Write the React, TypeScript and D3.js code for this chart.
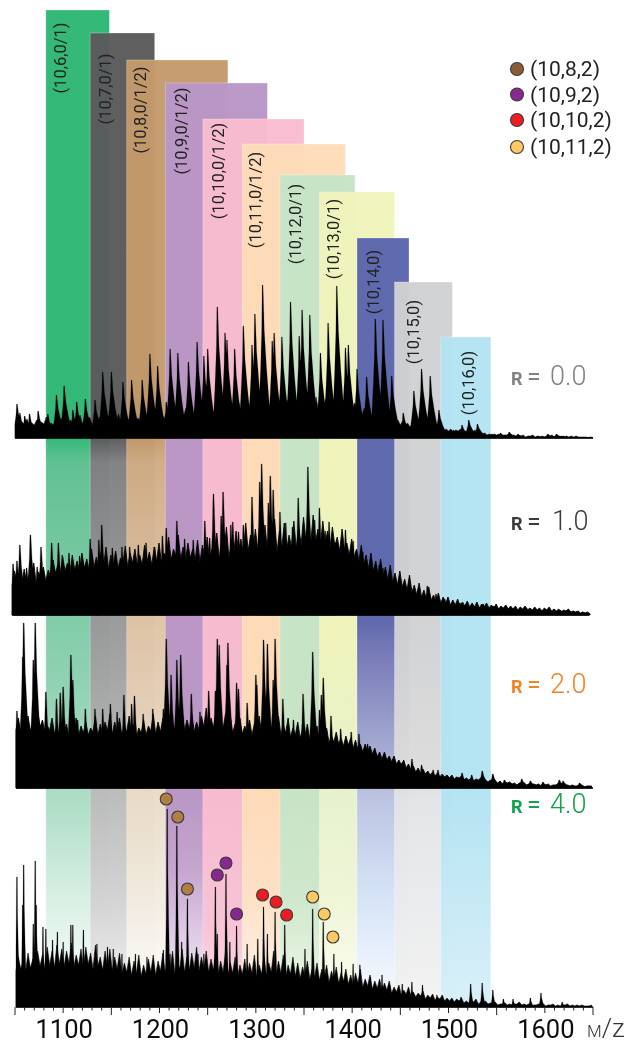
import React from "react";
import * as d3 from "d3";

// ---------- data ----------
const bandLabels = ["(10,6,0/1)","(10,7,0/1)","(10,8,0/1/2)","(10,9,0/1/2)","(10,10,0/1/2)","(10,11,0/1/2)","(10,12,0/1)","(10,13,0/1)","(10,14,0)","(10,15,0)","(10,16,0)"];
const bandStart = [1082,1128,1166,1206,1245,1286,1325,1366,1405,1444,1492];
const bandEnd = [1148,1195,1271,1312,1350,1393,1403,1444,1459,1504,1544];
const bandHeight = [428,405,378,355,319,294,263,246,200,156,101];

const r0Mz = [1052,1055,1060,1065,1074,1084,1093,1101,1110,1114,1123,1133,1141,1150,1162,1171,1182,1190,1198,1207,1211,1219,1230,1239,1246,1250,1260,1268,1270,1278,1287,1296,1299,1307,1317,1319,1327,1336,1345,1348,1356,1367,1375,1384,1393,1396,1405,1415,1424,1432,1441,1453,1464,1472,1481,1490,1505,1514,1521,1530,1545,1554,1563,1572,1593,1603,1612,1619];
const r0Int = [34,25,22,24,27,24,43,52,28,36,39,38,66,66,56,58,58,84,72,36,89,85,76,96,82,89,131,105,98,89,112,93,124,153,97,105,101,136,102,128,123,85,115,152,90,93,69,61,119,118,62,25,47,69,62,28,8,13,18,14,4,5,6,4,2,4,4,2];
const r0Floor = [14,12,13,11,13,12,14,11,13,14,15,13,14,16,14,15,13,15,14,16,15,17,15,14,16,15,17,16,15,18,17,19,18,20,19,22,20,21,23,22,24,22,24,21,25,23,26,24,25,27,26,28,25,27,29,26,28,30,27,29,31,28,30,27,29,26,28,25,27,24,26,23,22,24,20,19,18,17,15,14,13,12,11,12,10,9,10,8,9,7,7,6,7,5,5,6,4,4,3,3,3,2,3,2,2,2,1,2,1,1,1,2,1,1,1,1,1,1,1,0.5,0.5];
const r0Fine = [20,16,19,15,18,16,21,15,18,20,22,18,20,23,19,21,18,21,20,23,21,24,20,19,22,20,24,22,21,26,24,27,25,28,26,30,27,29,32,30,33,30,33,29,34,31,35,32,34,37,35,38,34,37,39,35,38,41,36,39,42,38,41,36,39,35,38,34,37,33,35,31,30,33,27,25,24,22,20,18,17,15,14,15,13,11,12,10,11,9,9,8,9,7,7,8,5,5,4,4,4,3,4,3,3,3,2,3,2,2,2,3,2,2,2,2,2,1,1,1];

const r1Mz = [1048,1052,1055,1062,1066,1073,1077,1088,1095,1099,1106,1117,1128,1137,1140,1151,1161,1169,1178,1186,1195,1203,1207,1218,1226,1235,1247,1252,1256,1264,1266,1274,1276,1282,1287,1296,1304,1306,1313,1315,1318,1325,1331,1338,1344,1354,1361,1366,1372,1376,1383,1393,1401,1411,1420,1428,1432,1439,1448,1460,1468,1478,1487,1496,1512,1520,1536,1547,1564,1581,1598,1616,1633];
const r1Int = [51,54,70,47,80,48,68,72,72,60,62,59,76,75,90,67,68,68,70,72,68,79,87,94,76,75,94,77,121,99,123,90,93,83,90,118,133,151,112,139,125,103,92,88,117,148,95,107,84,93,72,85,74,63,51,50,47,39,32,31,24,29,21,16,12,11,11,9,7,7,5,5,2];
const r1Floor = [30,33,29,32,35,31,36,34,38,42,40,44,41,45,43,47,44,48,46,49,46,50,47,51,48,52,49,50,53,50,54,52,58,55,59,56,54,57,55,53,57,54,60,56,62,58,61,63,60,64,62,65,61,64,66,63,67,65,68,66,70,74,71,73,69,72,67,69,64,66,60,58,54,50,46,44,40,38,35,33,30,28,25,23,20,18,16,15,13,12,11,10,10,9,9,8,8,7,8,7,7,6,7,6,6,5,6,5,5,5,4,5,4,4,3,4,3,3,2,2,1];
const r1Fine = [44,38,46,40,52,43,48,45,55,50,58,52,60,54,62,56,66,58,63,68,60,64,57,69,62,66,60,70,63,68,72,62,78,66,80,68,72,66,75,70,78,66,82,72,88,70,84,76,92,80,86,78,90,82,96,84,92,80,94,88,98,90,100,86,94,84,88,78,86,72,76,66,70,60,62,54,56,48,50,42,44,36,40,30,32,25,28,20,22,18,18,15,16,13,14,12,13,11,12,10,11,9,10,9,9,8,9,7,8,7,7,8,6,6,5,6,4,4,3,3];

const r2Mz = [1052,1058,1059,1069,1071,1082,1093,1097,1100,1108,1110,1115,1123,1133,1141,1149,1156,1163,1171,1174,1183,1193,1204,1207,1212,1218,1222,1233,1242,1251,1258,1260,1262,1270,1271,1280,1282,1291,1300,1301,1308,1312,1318,1320,1328,1339,1349,1359,1366,1368,1370,1378,1388,1399,1407,1416,1425,1433,1442,1451,1462,1472,1484,1489,1514,1524,1535,1546,1558,1576,1585,1598,1615,1619,1636];
const r2Int = [77,131,165,128,165,96,89,95,101,133,108,68,79,79,79,84,76,93,84,92,74,79,79,149,113,128,133,94,76,97,97,149,143,123,145,105,99,85,113,103,148,144,108,149,89,68,94,136,78,93,110,72,59,56,54,44,34,33,29,25,29,23,18,18,15,13,17,14,8,9,7,6,8,7,5];
const r2Floor = [58,55,60,57,59,61,56,58,54,51,53,50,54,52,55,53,56,52,54,57,53,55,52,56,54,51,55,53,57,54,56,59,55,58,60,57,59,56,58,61,57,60,56,59,58,55,57,54,56,53,57,54,58,55,57,53,55,51,53,50,52,48,50,47,49,45,46,44,42,43,40,38,36,37,34,31,29,28,26,24,23,20,18,16,15,14,13,12,11,11,10,9,10,8,8,7,8,6,6,5,5,4,5,4,3,4,3,3,3,2,3,2,3,2,2,2,2,2,1,2];
const r2Fine = [70,64,72,66,78,68,62,70,60,66,64,58,70,62,66,60,72,64,66,74,66,70,62,72,64,60,68,62,74,66,70,76,66,74,78,68,74,66,72,80,70,76,66,74,72,64,70,62,68,64,72,64,76,66,72,62,70,60,66,58,64,56,62,54,60,52,56,50,52,50,48,44,44,42,40,36,36,32,32,28,28,24,22,20,19,17,16,15,14,13,13,11,12,10,10,9,10,8,8,7,7,6,6,5,5,5,4,4,4,3,4,3,4,3,3,3,2,3,2,2];

const r4Mz = [1052,1058,1059,1069,1071,1072,1079,1082,1089,1094,1100,1108,1110,1121,1135,1146,1152,1161,1175,1187,1204,1208,1211,1218,1223,1229,1240,1246,1258,1260,1269,1273,1280,1291,1302,1308,1312,1320,1330,1351,1359,1370,1381,1389,1401,1408,1419,1431,1439,1452,1462,1473,1488,1513,1523,1535,1546,1557,1567,1585,1596,1618];
const r4Int = [130,102,142,83,146,102,80,78,67,75,65,82,82,77,63,60,58,53,53,50,57,198,53,181,65,108,53,53,120,73,133,65,81,63,68,100,73,95,82,58,98,85,53,45,43,42,30,32,22,23,25,22,12,10,23,24,17,8,8,9,14,5];
const r4Floor = [36,38,35,39,37,41,38,42,40,43,41,44,40,42,39,43,38,41,37,40,36,38,33,35,32,34,31,33,35,32,36,34,37,33,38,35,37,39,36,38,35,37,33,35,32,34,30,33,31,34,30,33,31,35,32,34,30,33,31,29,31,28,30,27,29,25,27,24,26,23,22,24,20,21,18,19,16,17,14,15,12,13,11,10,11,8,9,7,8,6,6,5,6,4,4,5,3,4,3,3,2,3,2,2,3,2,2,1,2,2,1,2,1,1,2,1,1,1,1,1];
const r4Fine = [50,46,54,48,56,52,60,56,62,58,56,64,52,58,60,54,62,50,56,58,50,54,44,50,46,52,42,48,52,46,54,48,56,46,58,50,54,60,50,56,48,56,46,54,44,50,42,48,44,52,42,50,44,56,46,52,42,50,44,40,46,38,44,38,42,36,40,34,38,32,34,38,28,32,26,28,24,26,20,22,17,20,15,14,16,12,13,10,12,9,9,8,9,6,6,8,5,6,4,5,3,4,3,3,5,3,3,2,3,3,2,3,2,2,3,2,2,2,1,2];

const xTickLabels = [1100,1200,1300,1400,1500,1600];

const markerSeries = ["(10,8,2)","(10,9,2)","(10,10,2)","(10,11,2)"];
const markerGroup = [0,0,0,1,1,1,2,2,2,3,3,3];
const markerMz = [1207,1219,1229,1260,1269,1280,1307,1321,1332,1359,1371,1380];
const markerInt = [208,190,118,132,144,93,112,105,92,110,93,70];

// ---------- style and layout ----------
const FONT = "Roboto, 'Open Sans', sans-serif";
const x = d3.scaleLinear().domain([1050, 1650]).range([15, 593]);
const bandBottom = 1005;
const bandFades: [number,string][][] = [
  [[438,"#2db673"],[462,"#5cbf90"],[630,"#80cba8"],[800,"#abdcc4"],[900,"#d8efe3"],[1005,"#ffffff"]],
  [[438,"#5a5a5c"],[462,"#7f7f81"],[630,"#9a9a9b"],[800,"#bcbcbc"],[900,"#d2d2d2"],[1005,"#f2f2f2"]],
  [[438,"#c49a6c"],[462,"#d0ac84"],[630,"#e0c5a8"],[800,"#eadcc8"],[900,"#f2ebe0"],[1005,"#ffffff"]],
  [[800,"#b996c6"],[870,"#c3a4cf"],[950,"#e4d4ea"],[1005,"#f5eff5"]],
  [[800,"#f9bcd0"],[930,"#f9c4d6"],[1005,"#fbdfe8"]],
  [[800,"#fddcb8"],[900,"#fde2c6"],[1005,"#fff6ec"]],
  [[800,"#c6e4c6"],[900,"#cee8cd"],[1005,"#eff8e9"]],
  [[640,"#f0f4bb"],[800,"#e8f2cf"],[900,"#f0f6d8"],[1005,"#fdfdf2"]],
  [[620,"#5b65ae"],[650,"#7275b6"],[780,"#b3b8dc"],[800,"#bcc4e4"],[900,"#d6e4f8"],[1005,"#f8fbff"]],
  [[620,"#d0d1d3"],[780,"#dcdcdc"],[800,"#e2e4e6"],[1005,"#f2f2f2"]],
  [[800,"#b3e3f2"],[1005,"#d8eff8"]],
];
const labelX = [60,105,140,181,218,255,295,333,373,413,468];
const labelY = [58,89,110,131,171,200,224,239,282,332,383];

const panels = [
  { mz: r0Mz, int: r0Int, floor: r0Floor, fine: r0Fine, start: 1050, base: 438, wL: 5, wR: 10, end: 593, swell: 0.5 },
  { mz: r1Mz, int: r1Int, floor: r1Floor, fine: r1Fine, start: 1047, base: 615, wL: 6, wR: 9, end: 589, swell: 0.9 },
  { mz: r2Mz, int: r2Int, floor: r2Floor, fine: r2Fine, start: 1051, base: 788, wL: 6, wR: 9, end: 593, swell: 0.9 },
  { mz: r4Mz, int: r4Int, floor: r4Floor, fine: r4Fine, start: 1051, base: 1007, wL: 2.5, wR: 3.5, end: 593, swell: 0.6 },
];
const rLabels = [
  { value: "0.0", y: 385, color: "#808285", dx: 550 },
  { value: "1.0", y: 530, color: "#3a3a3c", dx: 552 },
  { value: "2.0", y: 693, color: "#f58220", dx: 550 },
  { value: "4.0", y: 813, color: "#12a150", dx: 550 },
];
const markerFill = ["#b17f45","#8a2890","#ed1c24","#fdc965"];
const legendFill = ["#8a5d35","#8a2890","#ed1c24","#fdc965"];
const legendY = [69,94.5,120,147];

export default function App() {
  const yMain = d3.scaleLinear().domain([0, 100]).range([438, 338]);
  const areas = panels.map((p) => {
    const y = d3.scaleLinear().domain([0, 100]).range([p.base, p.base - 100]);
    const area = d3.area<[number, number]>().x((d) => x(d[0])).y0(p.base).y1((d) => y(d[1])).curve(d3.curveLinear);
    const floorPts: [number, number][] = [];
    p.floor.forEach((v, i) => {
      floorPts.push([p.start + i * 5, v]);
      if (i < p.fine.length) floorPts.push([p.start + i * 5 + 2.5, p.fine[i]]);
    });
    const floorPath = area(floorPts) || "";
    const peakPaths = p.mz.map((m, i) => {
      const h = p.int[i];
      const pts: [number, number][] = [
        [m - p.wL, 0], [m - p.wL * 0.7, h * 0.22], [m - p.wL * 0.42, h * 0.45], [m - Math.max(0.7, p.wL * 0.18), h * 0.7], [m - 0.45, h],
        [m + 0.45, h], [m + Math.max(0.7, p.wR * 0.18), h * 0.7], [m + p.wR * 0.42, h * 0.45], [m + p.wR * 0.7, h * 0.22], [m + p.wR, 0],
      ].map(([a, b]) => [Math.max(a, p.start), b] as [number, number]);
      return area(pts) || "";
    });
    return { floorPath, peaks: peakPaths.join(""), base: p.base, start: x(p.start), end: p.end, swell: p.swell };
  });
  const yMark = d3.scaleLinear().domain([0, 100]).range([1007, 907]);
  const minorTicks = d3.range(1050, 1651, 10);

  return (
    <svg width={638} height={1050} style={{ position: "absolute", left: 0, top: 0, background: "#fff" }} fontFamily={FONT}>
      <defs>
        {bandFades.map((stops, i) => (
          <linearGradient key={i} id={`fade${i}`} gradientUnits="userSpaceOnUse" x1={0} x2={0} y1={0} y2={bandBottom}>
            {stops.map(([pos, col], j) => (
              <stop key={j} offset={pos / bandBottom} stopColor={col} />
            ))}
          </linearGradient>
        ))}
        <filter id="soft" x="-2%" y="-2%" width="104%" height="104%">
          <feGaussianBlur stdDeviation="0.35" />
        </filter>
      </defs>
      <g filter="url(#soft)">
        {bandLabels.map((_, i) => {
          const yTop = yMain(bandHeight[i]);
          return (
            <rect key={i} x={x(bandStart[i])} y={yTop} width={x(bandEnd[i]) - x(bandStart[i])} height={bandBottom - yTop}
              fill={`url(#fade${i})`} fillOpacity={0.97} stroke="#ffffff" strokeOpacity={0.35} strokeWidth={0.8} />
          );
        })}
        {bandLabels.map((t, i) => (
          <text key={t} transform={`translate(${labelX[i]},${labelY[i]}) rotate(-90)`} textAnchor="middle" dominantBaseline="central"
            fontSize={16.5} fill="#222">{t}</text>
        ))}
        {areas.map((a, i) => (
          <g key={i}>
            <path d={a.floorPath} fill="#050505" stroke="#050505" strokeWidth={a.swell} strokeLinejoin="round" />
            <path d={a.peaks} fill="#050505" stroke="#050505" strokeOpacity={0.6} strokeWidth={a.swell * 0.5} />
            <line x1={a.start} x2={a.end} y1={a.base} y2={a.base} stroke="#050505" strokeWidth={1.6} />
          </g>
        ))}
        {minorTicks.map((t) => {
          const major = t % 100 === 50;
          const mid = t % 100 === 0;
          return <line key={t} x1={x(t)} x2={x(t)} y1={1007} y2={1007 + (major ? 8 : mid ? 6 : 3.5)} stroke="#222" strokeWidth={1} />;
        })}
        {xTickLabels.map((t) => (
          <text key={t} x={x(t) + 1} y={1038} textAnchor="middle" fontSize={25.5} fill="#111">{t}</text>
        ))}
        <text x={587} y={1037} fontSize={26} fill="#333" fontWeight={300}>
          <tspan fontSize={17}>M</tspan>/z
        </text>
        {markerMz.map((m, i) => (
          <circle key={i} cx={x(m)} cy={yMark(markerInt[i])} r={6} fill={markerFill[markerGroup[i]]} stroke="#3a3a3a" strokeWidth={1.1} />
        ))}
        {markerSeries.map((s, i) => (
          <g key={s}>
            <circle cx={517} cy={legendY[i]} r={6.5} fill={legendFill[i]} stroke="#3a3a3a" strokeWidth={1.1} />
            <text x={530} y={legendY[i] + 7} fontSize={21} fill="#222">{s}</text>
          </g>
        ))}
        {rLabels.map((r) => (
          <g key={r.value} fill={r.color}>
            <text x={511} y={r.y} fontSize={18} fontWeight={700} fontFamily="'Liberation Sans Narrow', Roboto, sans-serif">R</text>
            <text x={527} y={r.y} fontSize={25}>=</text>
            <text x={r.dx} y={r.y} fontSize={27} fontWeight={300}>{r.value}</text>
          </g>
        ))}
      </g>
    </svg>
  );
}
